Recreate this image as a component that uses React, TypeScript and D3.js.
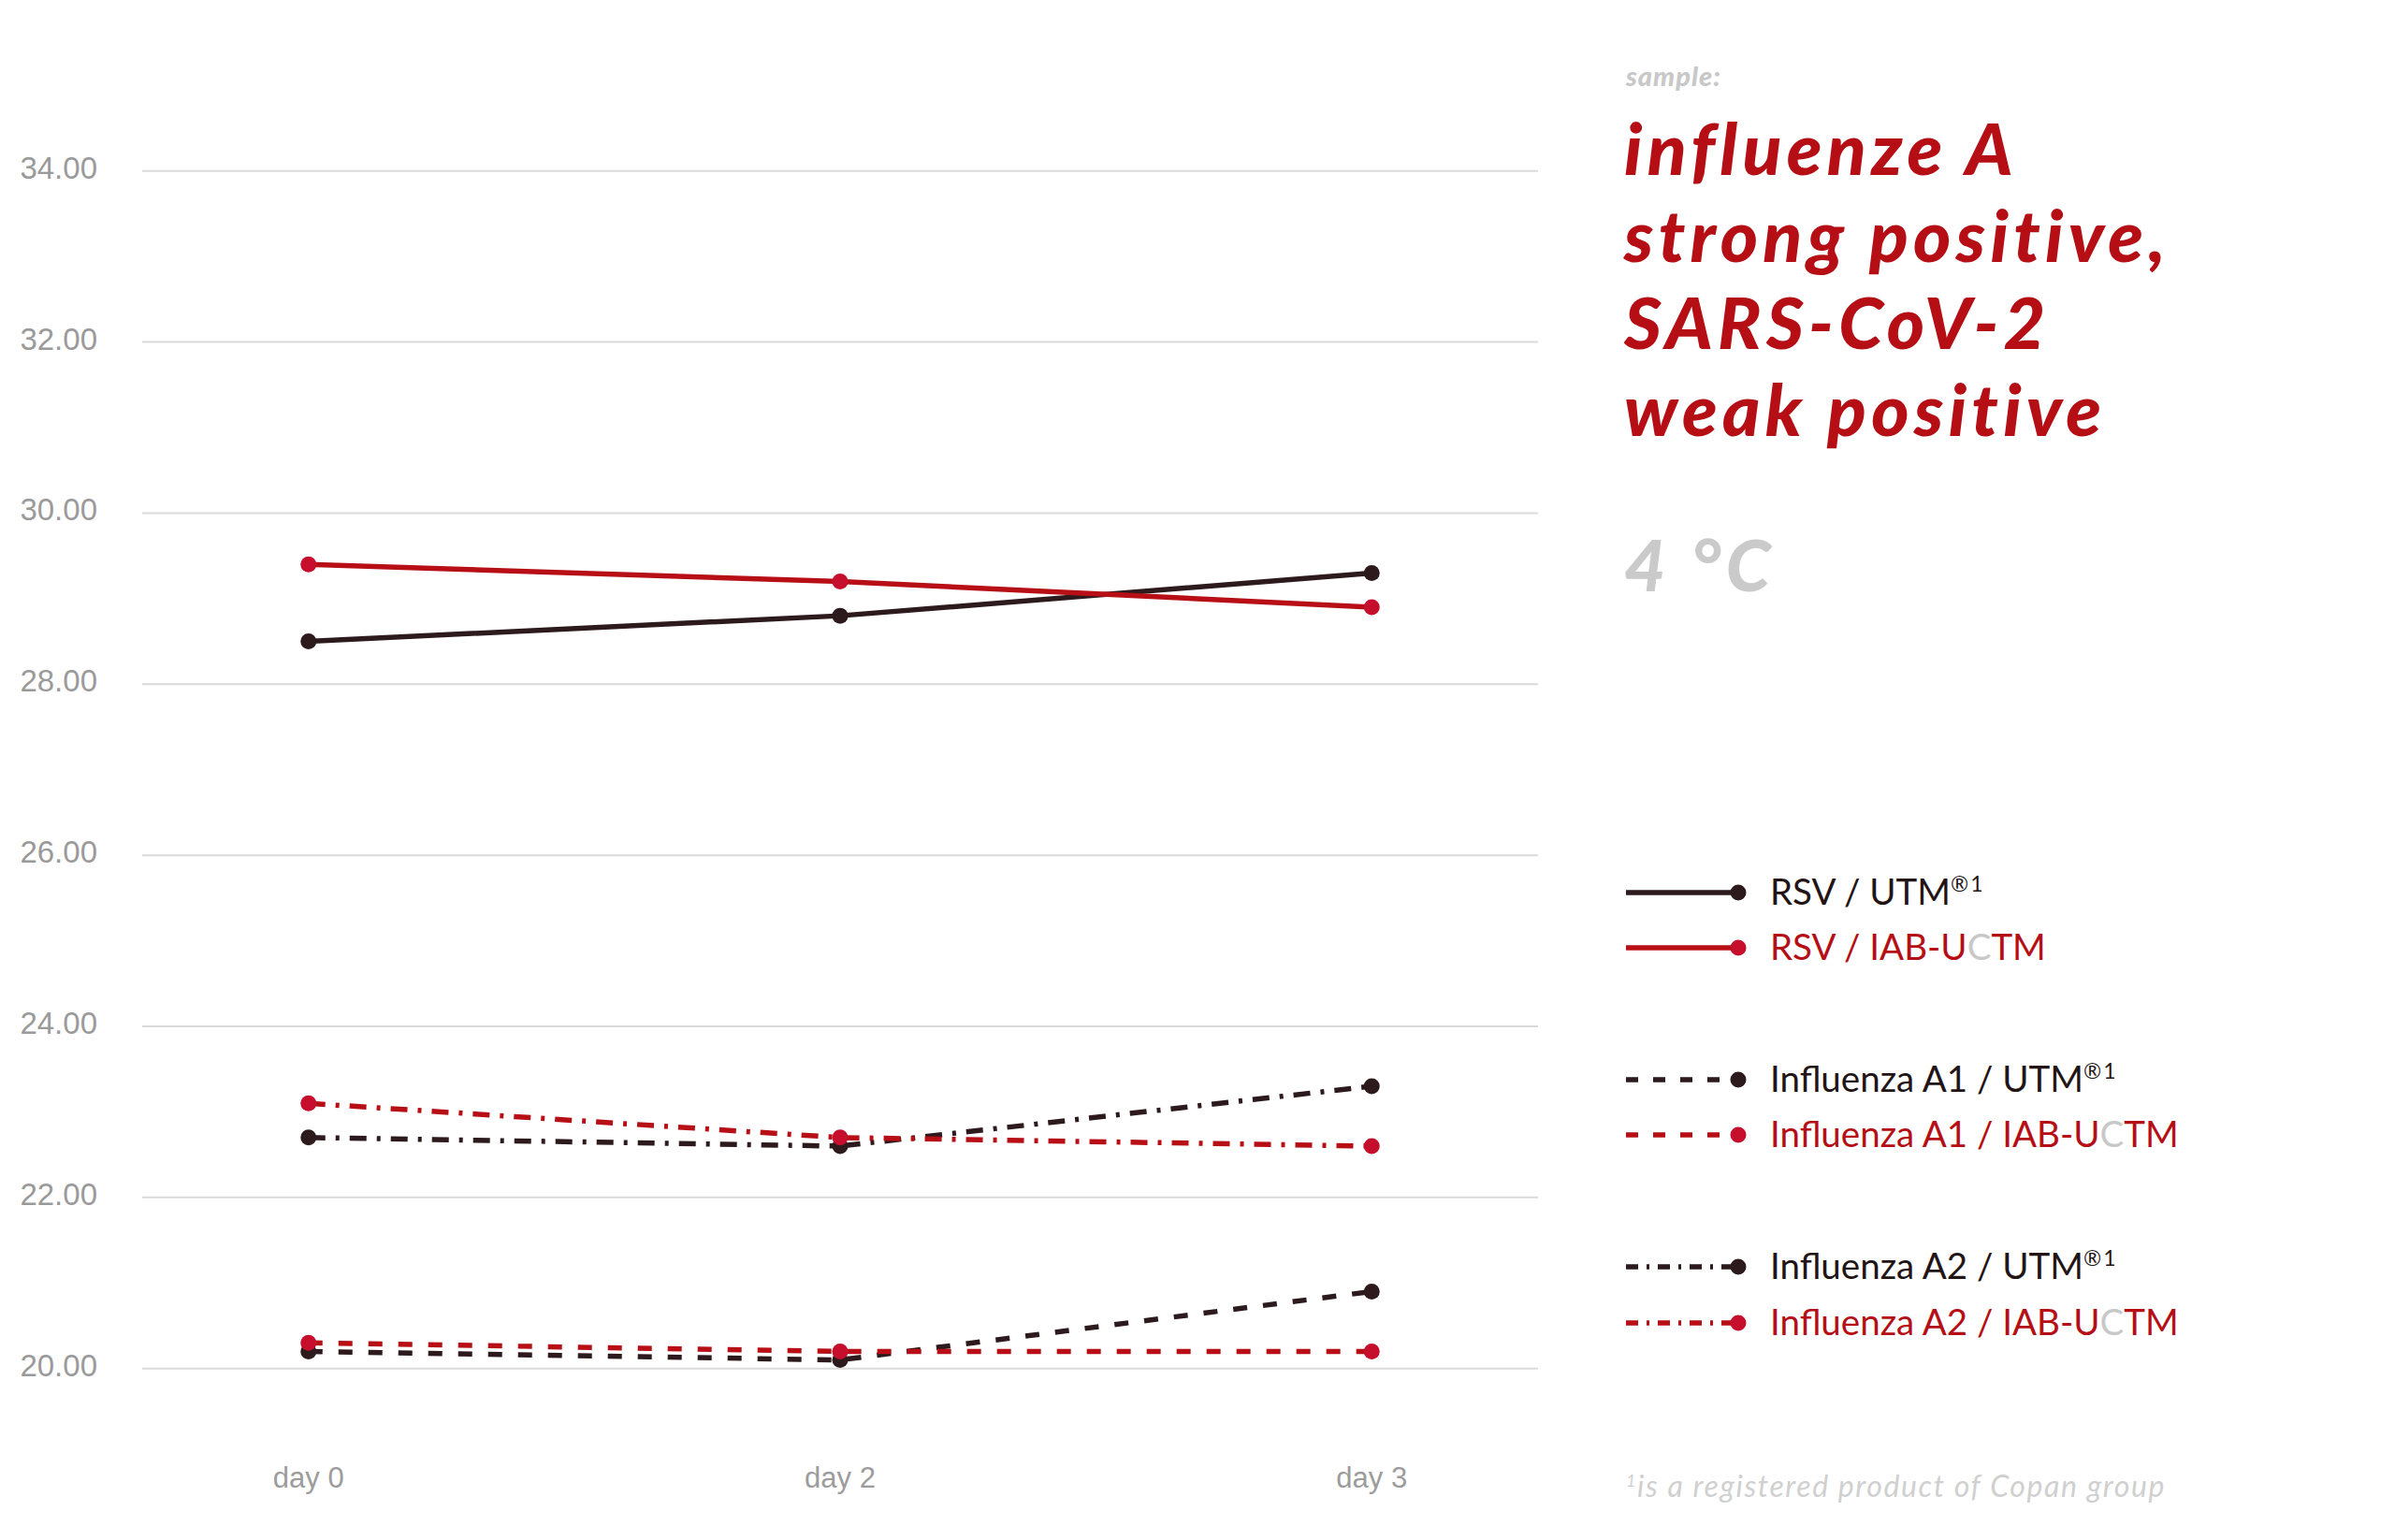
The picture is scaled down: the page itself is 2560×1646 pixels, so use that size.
import React from "react";
import * as d3 from "d3";

const days = ["day 0", "day 2", "day 3"];
const rsvUTM = [28.5, 28.8, 29.3];
const rsvIAB = [29.4, 29.2, 28.9];
const fluA1UTM = [20.2, 20.1, 20.9];
const fluA1IAB = [20.3, 20.2, 20.2];
const fluA2UTM = [22.7, 22.6, 23.3];
const fluA2IAB = [23.1, 22.7, 22.6];
const yTicks = [20, 22, 24, 26, 28, 30, 32, 34];

const DARK = "#2d1a1d";
const RED = "#b80f16";
const RED_DOT = "#c50f2c";
const DASH = "15 17";
const DASHDOT = "18 11 4 11";

const series = [
  { name: "rsvUTM", values: rsvUTM, color: DARK, dot: DARK, dash: null },
  { name: "rsvIAB", values: rsvIAB, color: RED, dot: RED_DOT, dash: null },
  { name: "fluA2UTM", values: fluA2UTM, color: DARK, dot: DARK, dash: DASHDOT },
  { name: "fluA2IAB", values: fluA2IAB, color: RED, dot: RED_DOT, dash: DASHDOT },
  { name: "fluA1UTM", values: fluA1UTM, color: DARK, dot: DARK, dash: DASH },
  { name: "fluA1IAB", values: fluA1IAB, color: RED, dot: RED_DOT, dash: DASH },
];

const legend = [
  { virus: "RSV", kind: "UTM", color: DARK, dot: DARK, dash: null, y: 954 },
  { virus: "RSV", kind: "IAB", color: RED, dot: RED_DOT, dash: null, y: 1013 },
  { virus: "Influenza A1", kind: "UTM", color: DARK, dot: DARK, dash: "13 16", y: 1154 },
  { virus: "Influenza A1", kind: "IAB", color: RED, dot: RED_DOT, dash: "13 16", y: 1213 },
  { virus: "Influenza A2", kind: "UTM", color: DARK, dot: DARK, dash: "13 9 3 9", y: 1354 },
  { virus: "Influenza A2", kind: "IAB", color: RED, dot: RED_DOT, dash: "13 9 3 9", y: 1414 },
];

const titleLines = ["influenze A", "strong positive,", "SARS-CoV-2", "weak positive"];

export default function App() {
  const x = d3.scalePoint<string>().domain(days).range([152, 1644]).padding(0.3128);
  const y = d3.scaleLinear().domain([20, 34]).range([1462.7, 182.7]);
  const line = d3
    .line<number>()
    .x((_, i) => x(days[i]) as number)
    .y((v) => y(v));

  const sans = "'Liberation Sans', Arial, sans-serif";
  const av = "Lato, 'Noto Sans', sans-serif";

  return (
    <svg
      width={2560}
      height={1646}
      style={{ position: "absolute", left: 0, top: 0, background: "#fff" }}
    >
      <rect width={2560} height={1646} fill="#fff" />
      {yTicks.map((t) => (
        <g key={t}>
          <line x1={152} x2={1644} y1={y(t)} y2={y(t)} stroke="#dadada" strokeWidth={2} />
          <text
            x={104}
            y={y(t) + 8}
            textAnchor="end"
            fontFamily={sans}
            fontSize={33}
            fill="#9a9a9a"
          >
            {t.toFixed(2)}
          </text>
        </g>
      ))}
      {days.map((d) => (
        <text
          key={d}
          x={x(d)}
          y={1590}
          textAnchor="middle"
          fontFamily={sans}
          fontSize={31}
          fill="#9c9c9c"
        >
          {d}
        </text>
      ))}
      {series.map((s) => (
        <g key={s.name}>
          <path
            d={line(s.values) || ""}
            fill="none"
            stroke={s.color}
            strokeWidth={5.5}
            strokeDasharray={s.dash || undefined}
          />
          {s.values.map((v, i) => (
            <circle key={i} cx={x(days[i])} cy={y(v)} r={8.5} fill={s.dot} />
          ))}
        </g>
      ))}

      <text x={1738} y={92} fontFamily={av} fontSize={29} fontWeight={900} fontStyle="italic" fill="#c8c8c8" letterSpacing={1}>
        sample:
      </text>
      {titleLines.map((t, i) => (
        <text
          key={t}
          x={1736}
          y={187 + i * 93}
          fontFamily={av}
          fontSize={77}
          fontWeight={900}
          fontStyle="italic"
          fill="#b50f15"
          letterSpacing={5.3}
        >
          {t}
        </text>
      ))}
      <text x={1736} y={632} fontFamily={av} fontSize={77} fontWeight={900} fontStyle="italic" fill="#cacaca" letterSpacing={5.3}>
        4 °C
      </text>

      {legend.map((l, i) => (
        <g key={i}>
          <line
            x1={1738}
            x2={1858}
            y1={l.y}
            y2={l.y}
            stroke={l.color}
            strokeWidth={5.5}
            strokeDasharray={l.dash || undefined}
          />
          <circle cx={1858} cy={l.y} r={8.5} fill={l.dot} />
          <text x={1892} y={l.y + 13} fontFamily={av} fontSize={38.5} fill={l.color === DARK ? "#231416" : "#b50f15"}>
            {l.kind === "UTM" ? (
              <>
                <tspan>{l.virus + " / UTM"}</tspan>
                <tspan fontSize={23} dy={-14}>®</tspan>
                <tspan fontSize={23} dx={2}>1</tspan>
              </>
            ) : (
              <>
                <tspan>{l.virus + " / IAB-U"}</tspan>
                <tspan fill="#c8c8c8">C</tspan>
                <tspan>TM</tspan>
              </>
            )}
          </text>
        </g>
      ))}

      <text x={1738} y={1600} fontFamily={av} fontSize={32} fontStyle="italic" fill="#d0d0d0" letterSpacing={1.6}>
        <tspan fontSize={18} dy={-11}>1</tspan>
        <tspan dy={11}>is a registered product of Copan group</tspan>
      </text>
    </svg>
  );
}
